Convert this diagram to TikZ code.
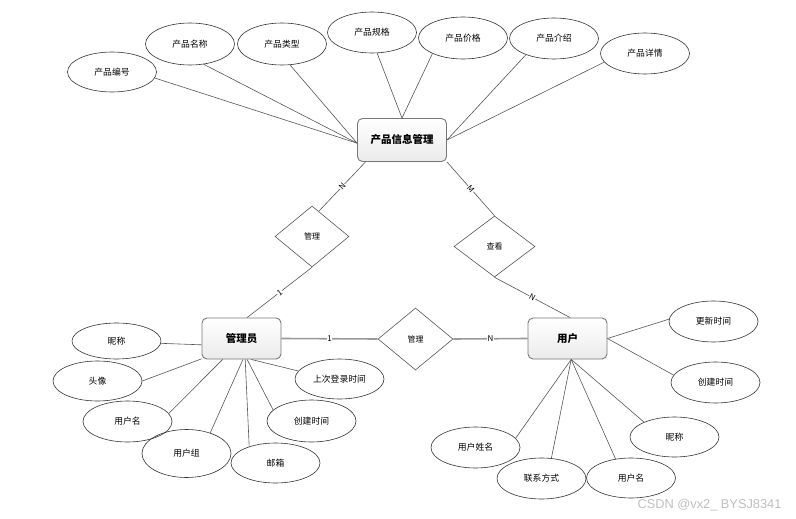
\documentclass[tikz,border=0pt]{standalone}
\usepackage{fontspec}
\setmainfont{Noto Sans CJK SC}
\newfontfamily\wmfont{Liberation Sans}
\usetikzlibrary{shapes.geometric}
\definecolor{edgegray}{HTML}{555555}
\definecolor{thickgray}{HTML}{999999}
\definecolor{boxborder}{HTML}{777777}
\begin{document}
\begin{tikzpicture}[x=1pt,y=-1pt,
  attr/.style={ellipse, draw=black!80, line width=0.6pt, minimum width=89pt, minimum height=40pt, inner sep=0pt, font=\fontsize{8.8}{10}\selectfont},
  ent/.style={rectangle, rounded corners=5pt, draw=boxborder, line width=0.9pt, top color=white, bottom color=black!8, minimum width=79pt, minimum height=41pt, inner sep=0pt, font=\bfseries\fontsize{10.5}{12}\selectfont},
  rel/.style={diamond, draw=edgegray, line width=0.6pt, aspect=1.2, minimum width=75pt, minimum height=61pt, inner sep=0pt, font=\fontsize{8}{10}\selectfont},
  link/.style={draw=edgegray, line width=0.6pt},
  thicklink/.style={draw=thickgray, line width=1.6pt},
  card/.style={font=\fontsize{8}{9}\selectfont, fill=white, inner sep=0.6pt},
]
\useasboundingbox (0,0) rectangle (796,519);
% entities
\node[ent, minimum width=89pt, minimum height=43pt] (pim) at (402,140) {产品信息管理};
\node[ent] (adm) at (241.5,338.5) {管理员};
\node[ent] (usr) at (567.5,338.5) {用户};
% relationships
\node[rel, minimum width=74pt] (d1) at (312,236.5) {管理};
\node[rel, minimum width=81pt] (d2) at (494.5,246.5) {查看};
\node[rel, minimum height=62pt] (d3) at (415.5,339) {管理};
% product attributes
\node[attr] (p1) at (112,72) {产品编号};
\node[attr, minimum height=42pt] (p2) at (190,44) {产品名称};
\node[attr, minimum height=42pt] (p3) at (282,44) {产品类型};
\node[attr, minimum height=41pt] (p4) at (372,32.5) {产品规格};
\node[attr, minimum height=42pt] (p5) at (463,38) {产品价格};
\node[attr, minimum height=41pt] (p6) at (554,38.5) {产品介绍};
\node[attr, minimum height=41pt] (p7) at (645,53.5) {产品详情};
% admin attributes
\node[attr, minimum height=36pt] (a1) at (116.5,341) {昵称};
\node[attr] (a2) at (97.5,381) {头像};
\node[attr, minimum height=41pt] (a3) at (127.5,421.5) {用户名};
\node[attr, minimum height=48pt] (a4) at (186.5,453.5) {用户组};
\node[attr] (a5) at (275.5,463) {邮箱};
\node[attr, minimum height=42pt] (a6) at (311.5,421) {创建时间};
\node[attr] (a7) at (339.5,379) {上次登录时间};
% user attributes
\node[attr, minimum height=41pt] (u1) at (713.5,321.5) {更新时间};
\node[attr, minimum height=41pt] (u2) at (715.5,382.5) {创建时间};
\node[attr] (u3) at (674.5,437) {昵称};
\node[attr] (u4) at (631,478) {用户名};
\node[attr, minimum height=41pt] (u5) at (541.5,478.5) {联系方式};
\node[attr, minimum height=41pt] (u6) at (475.5,447.5) {用户姓名};
% product attribute links
\draw[link] (p1.-8) -- (pim.184);
\draw[link] (p2.-56) -- (pim.184);
\draw[link] (p3.-69) -- (pim.184);
\draw[link] (p4.-76) -- (pim.north);
\draw[link] (p5.207) -- (pim.north);
\draw[link] (p6.210) -- (pim.east);
\draw[link] (p7.192) -- (pim.east);
% admin attribute links
\draw[link] (a1.-3) -- (adm.189);
\draw[link] (a2.east) -- (adm.207);
\draw[link] (a3.11) -- (adm.-132);
\draw[link] (a4.41) -- (adm.-86);
\draw[link] (a5.148) -- (adm.-80);
\draw[link] (a6.164) -- (adm.-75);
\draw[link] (a7.169) -- (adm.-65);
% user attribute links
\draw[link] (u1.177) -- (usr.east);
\draw[link] (u2.170) -- (usr.east);
\draw[link] (u3.154) -- (usr.-80);
\draw[link] (u4.129) -- (usr.-80);
\draw[link] (u5.64) -- (usr.-80);
\draw[link] (u6.13) -- (usr.-80);
% relationship links
\draw[link] (pim.211) -- node[card, sloped] {N} (d1.75);
\draw[link] (d1.south) -- node[card, sloped] {1} (adm.75);
\draw[link] (pim.south east) -- node[card, sloped] {M} (d2.north);
\draw[link] (d2.south) -- node[card, sloped] {N} (usr.83);
\draw[thicklink] (adm.east) -- node[card, text=black] {1} (d3.west);
\draw[thicklink] (d3.east) -- node[card, text=black] {N} (usr.west);
% watermark
\node[font=\wmfont\fontsize{12.8}{15}\selectfont, text=black!25, inner sep=0pt] (wm) at (709.5,505.5) {CSDN @vx2\_ BYSJ8341};
\end{tikzpicture}
\end{document}
